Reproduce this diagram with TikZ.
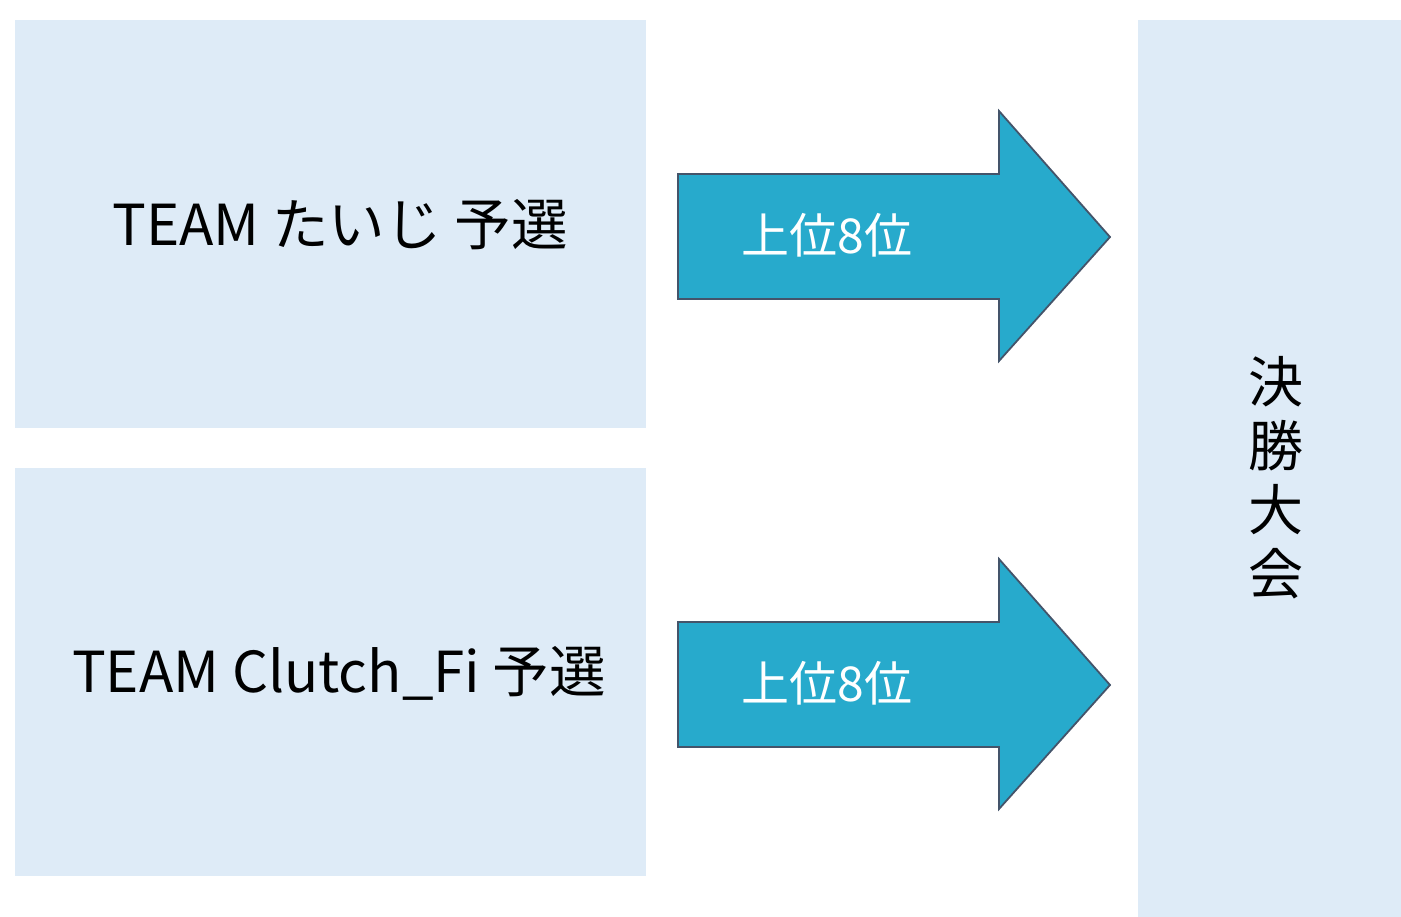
\documentclass[tikz,border=0pt]{standalone}
\usepackage{fontspec}
\setmainfont{Noto Sans CJK JP}
\definecolor{boxfill}{HTML}{DEEBF7}
\definecolor{arrfill}{HTML}{27AACC}
\definecolor{arrline}{HTML}{44546A}
\begin{document}
\begin{tikzpicture}[x=1pt,y=-1pt,
  panel/.style={fill=boxfill,draw=none},
  bigarrow/.style={fill=arrfill,draw=arrline,line width=1.8pt,line join=miter},
  title/.style={font=\fontsize{56.5}{62}\selectfont,text=black,inner sep=0pt},
  arrlabel/.style={font=\fontsize{48}{52}\selectfont,text=white,inner sep=0pt}]
\useasboundingbox (0,0) rectangle (1401,917);
\fill[white] (0,0) rectangle (1401,917);
% panels
\path[panel] (15,20) rectangle (646,428);
\path[panel] (15,468) rectangle (646,876);
\path[panel] (1138,20) rectangle (1401,917);
% arrows
\draw[bigarrow] (678,174) -- (999,174) -- (999,111) -- (1110,237) -- (999,361) -- (999,299) -- (678,299) -- cycle;
\draw[bigarrow] (678,622) -- (999,622) -- (999,559) -- (1110,685) -- (999,809) -- (999,747) -- (678,747) -- cycle;
% texts
\node[title] (t1) at (340,225) {TEAM たいじ 予選};
\node[title] (t2) at (339,673) {TEAM Clutch\_Fi 予選};
\node[arrlabel] (a1) at (827,235) {上位8位};
\node[arrlabel] (a2) at (827,683) {上位8位};
\node[title,align=center,font=\fontsize{55}{64}\selectfont] (fin) at (1276,478) {決\\勝\\大\\会};
\end{tikzpicture}
\end{document}
